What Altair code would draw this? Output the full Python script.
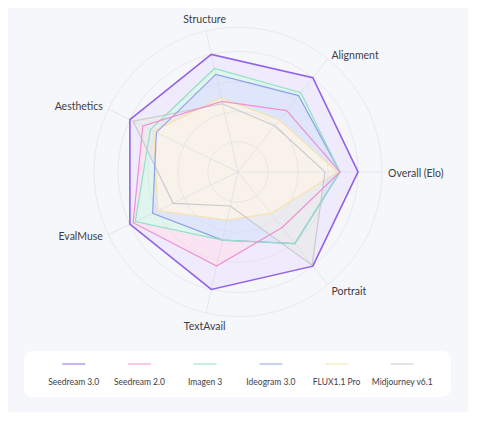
import altair as alt
import pandas as pd

axes = ["Overall (Elo)", "Alignment", "Structure", "Aesthetics", "EvalMuse", "TextAvail", "Portrait"]
series = ["Seedream 3.0", "Seedream 2.0", "Imagen 3", "Ideogram 3.0", "FLUX1.1 Pro", "Midjourney v6.1"]

seedream_30 = [1.0, 1.0, 1.0, 1.0, 1.0, 1.0, 1.0]
seedream_20 = [0.85, 0.65, 0.60, 0.88, 0.97, 0.80, 0.59]
imagen_3 = [0.85, 0.84, 0.88, 0.81, 0.95, 0.58, 0.76]
ideogram_30 = [0.85, 0.81, 0.83, 0.755, 0.79, 0.58, 0.76]
flux_11_pro = [0.83, 0.55, 0.63, 0.78, 0.74, 0.41, 0.44]
midjourney_61 = [0.725, 0.49, 0.58, 0.97, 0.60, 0.29, 0.99]

rings = [0.25, 0.5, 0.75, 1.0, 1.2]

line_colors = ["#9361e9", "#f090cf", "#92e0c6", "#8fa2ea", "#f6e3ad", "#cacace"]
fill_colors = ["#efebfc", "#fae3f3", "#e0f5ee", "#dfe5fa", "#f8f2ea", "#ebebef"]
# fills are painted in this order so the smaller shapes sit on top
fill_order = ["Seedream 3.0", "Seedream 2.0", "Imagen 3", "Ideogram 3.0", "Midjourney v6.1", "FLUX1.1 Pro"]

n = len(axes)
values = [seedream_30, seedream_20, imagen_3, ideogram_30, flux_11_pro, midjourney_61]
scores = pd.DataFrame(
    [
        {"series": s, "axis": a, "idx": i, "value": v}
        for s, vals in zip(series, values)
        for i, (a, v) in enumerate(zip(axes, vals))
    ]
)
axis_df = pd.DataFrame({"axis": axes, "idx": list(range(n))})
ring_df = pd.DataFrame({"ring": rings})
legend_df = pd.DataFrame({"series": series})

ANG = f"datum.idx * 2 * PI / {n}"
xs = alt.Scale(domain=[-1.9167, 1.9167], nice=False, zero=False)
ys = alt.Scale(domain=[-1.9917, 1.36], nice=False, zero=False)
fill_scale = alt.Scale(domain=series, range=fill_colors)
stroke_scale = alt.Scale(domain=series, range=line_colors)


def X(field):
    return alt.X(field, type="quantitative", scale=xs, axis=None)


def Y(field):
    return alt.Y(field, type="quantitative", scale=ys, axis=None)


fills = [
    alt.Chart(scores)
    .transform_filter(alt.datum.series == s)
    .transform_calculate(
        ang=ANG,
        px="datum.value * cos(datum.ang)",
        py="datum.value * sin(datum.ang)",
    )
    .mark_line(filled=True, interpolate="linear-closed")
    .encode(
        x=X("px"),
        y=Y("py"),
        fill=alt.Fill("series:N", scale=fill_scale, legend=None),
        order="idx:Q",
    )
    for s in fill_order
]

grid_rings = (
    alt.Chart(ring_df)
    .transform_calculate(deg="sequence(0, 364, 4)")
    .transform_flatten(["deg"])
    .transform_calculate(
        px="datum.ring * cos(datum.deg * PI / 180)",
        py="datum.ring * sin(datum.deg * PI / 180)",
    )
    .mark_line(color="#d6d7e0", strokeWidth=1, opacity=0.45)
    .encode(x=X("px"), y=Y("py"), detail="ring:N", order="deg:Q")
)

spokes = (
    alt.Chart(axis_df)
    .transform_calculate(
        ang=ANG,
        o="0",
        px=f"{rings[-1]} * cos(datum.ang)",
        py=f"{rings[-1]} * sin(datum.ang)",
    )
    .mark_rule(color="#d6d7e0", strokeWidth=1, opacity=0.55)
    .encode(x=X("o"), y=Y("o"), x2="px:Q", y2="py:Q")
)

strokes = [
    alt.Chart(scores)
    .transform_filter(alt.datum.series == s)
    .transform_calculate(
        ang=ANG,
        px="datum.value * cos(datum.ang)",
        py="datum.value * sin(datum.ang)",
    )
    .mark_line(interpolate="linear-closed", strokeWidth=1.6 if s == "Seedream 3.0" else 1.2)
    .encode(
        x=X("px"),
        y=Y("py"),
        stroke=alt.Stroke("series:N", scale=stroke_scale, legend=None),
        order="idx:Q",
    )
    for s in reversed(fill_order)
]

label_base = alt.Chart(axis_df).transform_calculate(
    ang=ANG,
    c="cos(datum.ang)",
    s="sin(datum.ang)",
    px="1.25 * datum.c",
    py="1.25 * datum.s",
)
label_style = dict(font="Lato", fontSize=10.5, color="#3d3d45")
labels = [
    label_base.transform_filter("datum.c > 0.3")
    .mark_text(align="left", baseline="middle", dy=2, **label_style)
    .encode(x=X("px"), y=Y("py"), text="axis:N"),
    label_base.transform_filter("datum.c < -0.3")
    .mark_text(align="right", baseline="middle", **label_style)
    .encode(x=X("px"), y=Y("py"), text="axis:N"),
    label_base.transform_filter("abs(datum.c) <= 0.3 && datum.s > 0")
    .mark_text(align="center", baseline="bottom", **label_style)
    .encode(x=X("px"), y=Y("py"), text="axis:N"),
    label_base.transform_filter("abs(datum.c) <= 0.3 && datum.s < 0")
    .mark_text(align="center", baseline="top", dy=3, **label_style)
    .encode(x=X("px"), y=Y("py"), text="axis:N"),
]

radar = alt.layer(*fills, grid_rings, spokes, *strokes, *labels)

lx = alt.X("series:N", scale=alt.Scale(domain=series, padding=1), axis=None)
legend_box = (
    alt.Chart(pd.DataFrame({"box": [0]}))
    .mark_rect(fill="white", cornerRadius=9)
    .encode(x=alt.value(16), x2=alt.value(443), y=alt.value(343), y2=alt.value(389))
)
legend_lines = (
    alt.Chart(legend_df)
    .mark_point(shape="stroke", size=530, strokeWidth=1.3, filled=False, opacity=0.75)
    .encode(
        x=lx,
        y=alt.value(356),
        stroke=alt.Stroke("series:N", scale=stroke_scale, legend=None),
    )
)
legend_text = (
    alt.Chart(legend_df)
    .mark_text(font="Lato", fontSize=8.5, color="#3d3d45", baseline="middle")
    .encode(x=lx, y=alt.value(374), text="series:N")
)
legend = alt.layer(legend_box, legend_lines, legend_text)

chart = (
    alt.layer(radar, legend)
    .resolve_scale(x="independent")
    .properties(width=460, height=404, padding=0, background="#f6f7fb")
    .configure_view(stroke=None)
)

chart.save("out.html", embed_options={"renderer": "svg", "actions": False})
